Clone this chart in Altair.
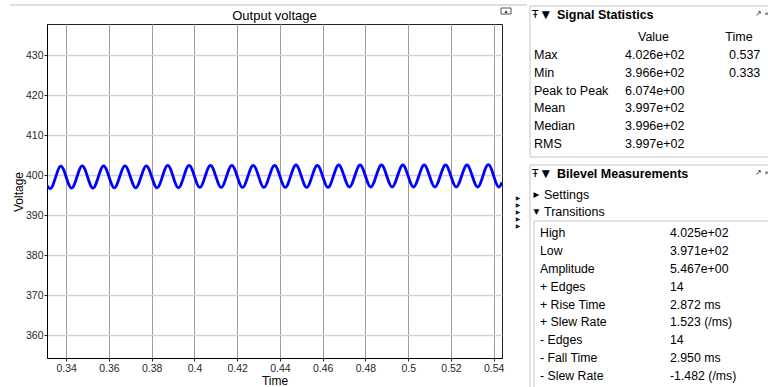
import altair as alt
import pandas as pd

# ---------------- data ----------------
time_s = [0.331, 0.3325, 0.3375, 0.3425, 0.3475, 0.3525, 0.3575, 0.3625, 0.3675,
          0.3725, 0.3775, 0.3825, 0.3875, 0.3925, 0.3975, 0.4025, 0.4075, 0.4125,
          0.4175, 0.4225, 0.4275, 0.4325, 0.4375, 0.4425, 0.4475, 0.4525, 0.4575,
          0.4625, 0.4675, 0.4725, 0.4775, 0.4825, 0.4875, 0.4925, 0.4975, 0.5025,
          0.5075, 0.5125, 0.5175, 0.5225, 0.5275, 0.5325, 0.5375, 0.5425, 0.5439]
voltage = [397.4, 396.6, 402.2, 396.7, 402.3, 396.7, 402.3, 396.8, 402.3,
           396.8, 402.3, 396.8, 402.4, 396.8, 402.4, 396.9, 402.4, 396.9,
           402.4, 396.9, 402.4, 396.9, 402.4, 396.9, 402.5, 396.9, 402.4,
           396.9, 402.5, 397.0, 402.5, 397.0, 402.5, 397.0, 402.5, 397.0,
           402.5, 397.0, 402.5, 397.0, 402.5, 397.0, 402.6, 397.0, 398.2]

x_ticks = [0.34, 0.36, 0.38, 0.4, 0.42, 0.44, 0.46, 0.48, 0.5, 0.52, 0.54]
y_ticks = [360, 370, 380, 390, 400, 410, 420, 430]

stats_labels = ["Max", "Min", "Peak to Peak", "Mean", "Median", "RMS"]
stats_values = ["4.026e+02", "3.966e+02", "6.074e+00", "3.997e+02", "3.996e+02", "3.997e+02"]
stats_times = ["0.537", "0.333", "", "", "", ""]

bilevel_labels = ["High", "Low", "Amplitude", "+ Edges", "+ Rise Time", "+ Slew Rate",
                  "- Edges", "- Fall Time", "- Slew Rate"]
bilevel_values = ["\u00a04.025e+02", "\u00a03.971e+02", "\u00a05.467e+00", "14",
                  "\u00a02.872 ms", "\u00a01.523 (/ms)", "14", "\u00a02.950 ms", "-1.482 (/ms)"]

FONT = "Liberation Sans"

wave = pd.DataFrame({"t": time_s, "v": voltage})
stats = pd.DataFrame({"label": stats_labels, "value": stats_values,
                      "time": stats_times, "row": list(range(len(stats_labels)))})
bilevel = pd.DataFrame({"label": bilevel_labels, "value": bilevel_values,
                        "row": list(range(len(bilevel_labels)))})
one = pd.DataFrame({"k": [0]})

# ---------------- main plot ----------------
line = alt.Chart(wave).mark_line(
    color="#0000ff", strokeWidth=2.8, interpolate="monotone", clip=True
).encode(
    x=alt.X("t:Q",
            scale=alt.Scale(domain=[0.331, 0.5439], nice=False, zero=False),
            axis=alt.Axis(values=x_ticks, format="~g", title="Time",
                          grid=True, gridColor="#9c9c9c", gridWidth=1,
                          tickSize=3, labelPadding=2,
                          titleX=227.5, titleY=26, titleAlign="center",
                          titleBaseline="alphabetic")),
    y=alt.Y("v:Q",
            scale=alt.Scale(domain=[354.25, 437.75], nice=False, zero=False),
            axis=alt.Axis(values=y_ticks, format="d", title="Voltage",
                          grid=True, gridColor="#d2d2d2", gridWidth=1.3,
                          tickSize=3, labelPadding=1,
                          titleX=-24.5, titleY=167.5, titleAngle=270,
                          titleAlign="center", titleBaseline="alphabetic")),
)

title = alt.Chart(one).mark_text(
    text="Output voltage", font=FONT, fontSize=13, color="black",
    align="center", baseline="alphabetic"
).encode(x=alt.value(227.5), y=alt.value(-4))

# ---------------- decoration: frames ----------------
def rule(x1, x2, y1, y2, color="#bdbdbd", w=1):
    return alt.Chart(one).mark_rule(color=color, strokeWidth=w).encode(
        x=alt.value(x1), x2=alt.value(x2), y=alt.value(y1), y2=alt.value(y2))

def box(x1, x2, y1, y2, stroke="#c4c4c4", fill="white"):
    return alt.Chart(one).mark_rect(stroke=stroke, strokeWidth=1, fill=fill).encode(
        x=alt.value(x1), x2=alt.value(x2), y=alt.value(y1), y2=alt.value(y2))

def label(txt, x, y, size=12, weight="normal", align="left", color="black", baseline="middle", font=FONT):
    return alt.Chart(one).mark_text(
        text=txt, font=font, fontSize=size, fontWeight=weight, align=align,
        baseline=baseline, color=color
    ).encode(x=alt.value(x), y=alt.value(y))

top_line = rule(-37, 480, -19, -19)
plot_icon = box(454, 464, -16, -10, stroke="#555555", fill="white")
plot_icon_tri = label("\u25b2", 459, -13, size=5, align="center", color="#333333")

side_tris = alt.Chart(one).mark_text(
    text=["\u25b6"] * 5, font="DejaVu Sans", fontSize=6, lineHeight=7,
    align="center", baseline="middle", color="#222222"
).encode(x=alt.value(471), y=alt.value(174))

# ---------------- Signal Statistics panel ----------------
stats_box = box(483, 725, -18, 133)
stats_icons = label("\u0166 \u25bc", 485, -9, size=10.5, font="DejaVu Sans")
stats_head = label("Signal Statistics", 510, -9, size=12.5, weight="bold")
stats_close = label("\u2197 \u00d7", 708, -10, size=8, color="#333333")
col_value = label("Value", 606.5, 12.7, size=12.5, align="center")
col_time = label("Time", 692, 12.7, size=12.5, align="center")

def stats_col(field, x):
    return alt.Chart(stats).transform_calculate(
        py="31 + datum.row * 17.8"
    ).mark_text(font=FONT, fontSize=12.5, align="left", baseline="middle", color="black").encode(
        x=alt.value(x), y=alt.Y("py:Q", scale=None, axis=None), text=alt.Text(f"{field}:N"))

stats_lab = stats_col("label", 487)
stats_val = stats_col("value", 578)
stats_tim = stats_col("time", 682)

# ---------------- Bilevel Measurements panel ----------------
bil_box = box(483, 725, 141, 376)
bil_icons = label("\u0166 \u25bc", 485, 150, size=10.5, font="DejaVu Sans")
bil_head = label("Bilevel Measurements", 510, 150, size=12.5, weight="bold")
bil_close = label("\u2197 \u00d7", 708, 149, size=8, color="#333333")
set_tri = label("\u25b6", 486.5, 171, size=7.5, font="DejaVu Sans")
set_txt = label("Settings", 497, 171, size=12.5)
tr_tri = label("\u25bc", 486.5, 188, size=7.5, font="DejaVu Sans")
tr_txt = label("Transitions", 497, 188, size=12.5)
inner_box = box(487, 725, 197, 376)

def bil_col(field, x):
    return alt.Chart(bilevel).transform_calculate(
        py="209.3 + datum.row * 17.8"
    ).mark_text(font=FONT, fontSize=12.3, align="left", baseline="middle", color="black").encode(
        x=alt.value(x), y=alt.Y("py:Q", scale=None, axis=None), text=alt.Text(f"{field}:N"))

bil_lab = bil_col("label", 493)
bil_val = bil_col("value", 623)

chart = alt.layer(
    line, title, top_line, plot_icon, plot_icon_tri, side_tris,
    stats_box, stats_icons, stats_head, stats_close, col_value, col_time,
    stats_lab, stats_val, stats_tim,
    bil_box, bil_icons, bil_head, bil_close, set_tri, set_txt, tr_tri, tr_txt,
    inner_box, bil_lab, bil_val,
).resolve_scale(
    x="independent", y="independent"
).properties(
    width=455, height=334,
    padding={"left": 47, "top": 24, "right": 266, "bottom": 29},
    autosize=alt.AutoSizeParams(type="none"),
    background="white",
).configure_view(
    stroke="#222222", strokeWidth=1
).configure_axis(
    labelFont=FONT, labelFontSize=10.5, labelColor="#262626",
    titleFont=FONT, titleFontSize=12, titleFontWeight="normal", titleColor="black",
    domainColor="black", domainWidth=1, tickColor="#262626",
)

chart.save("out.html", embed_options={"renderer": "svg", "actions": False})
